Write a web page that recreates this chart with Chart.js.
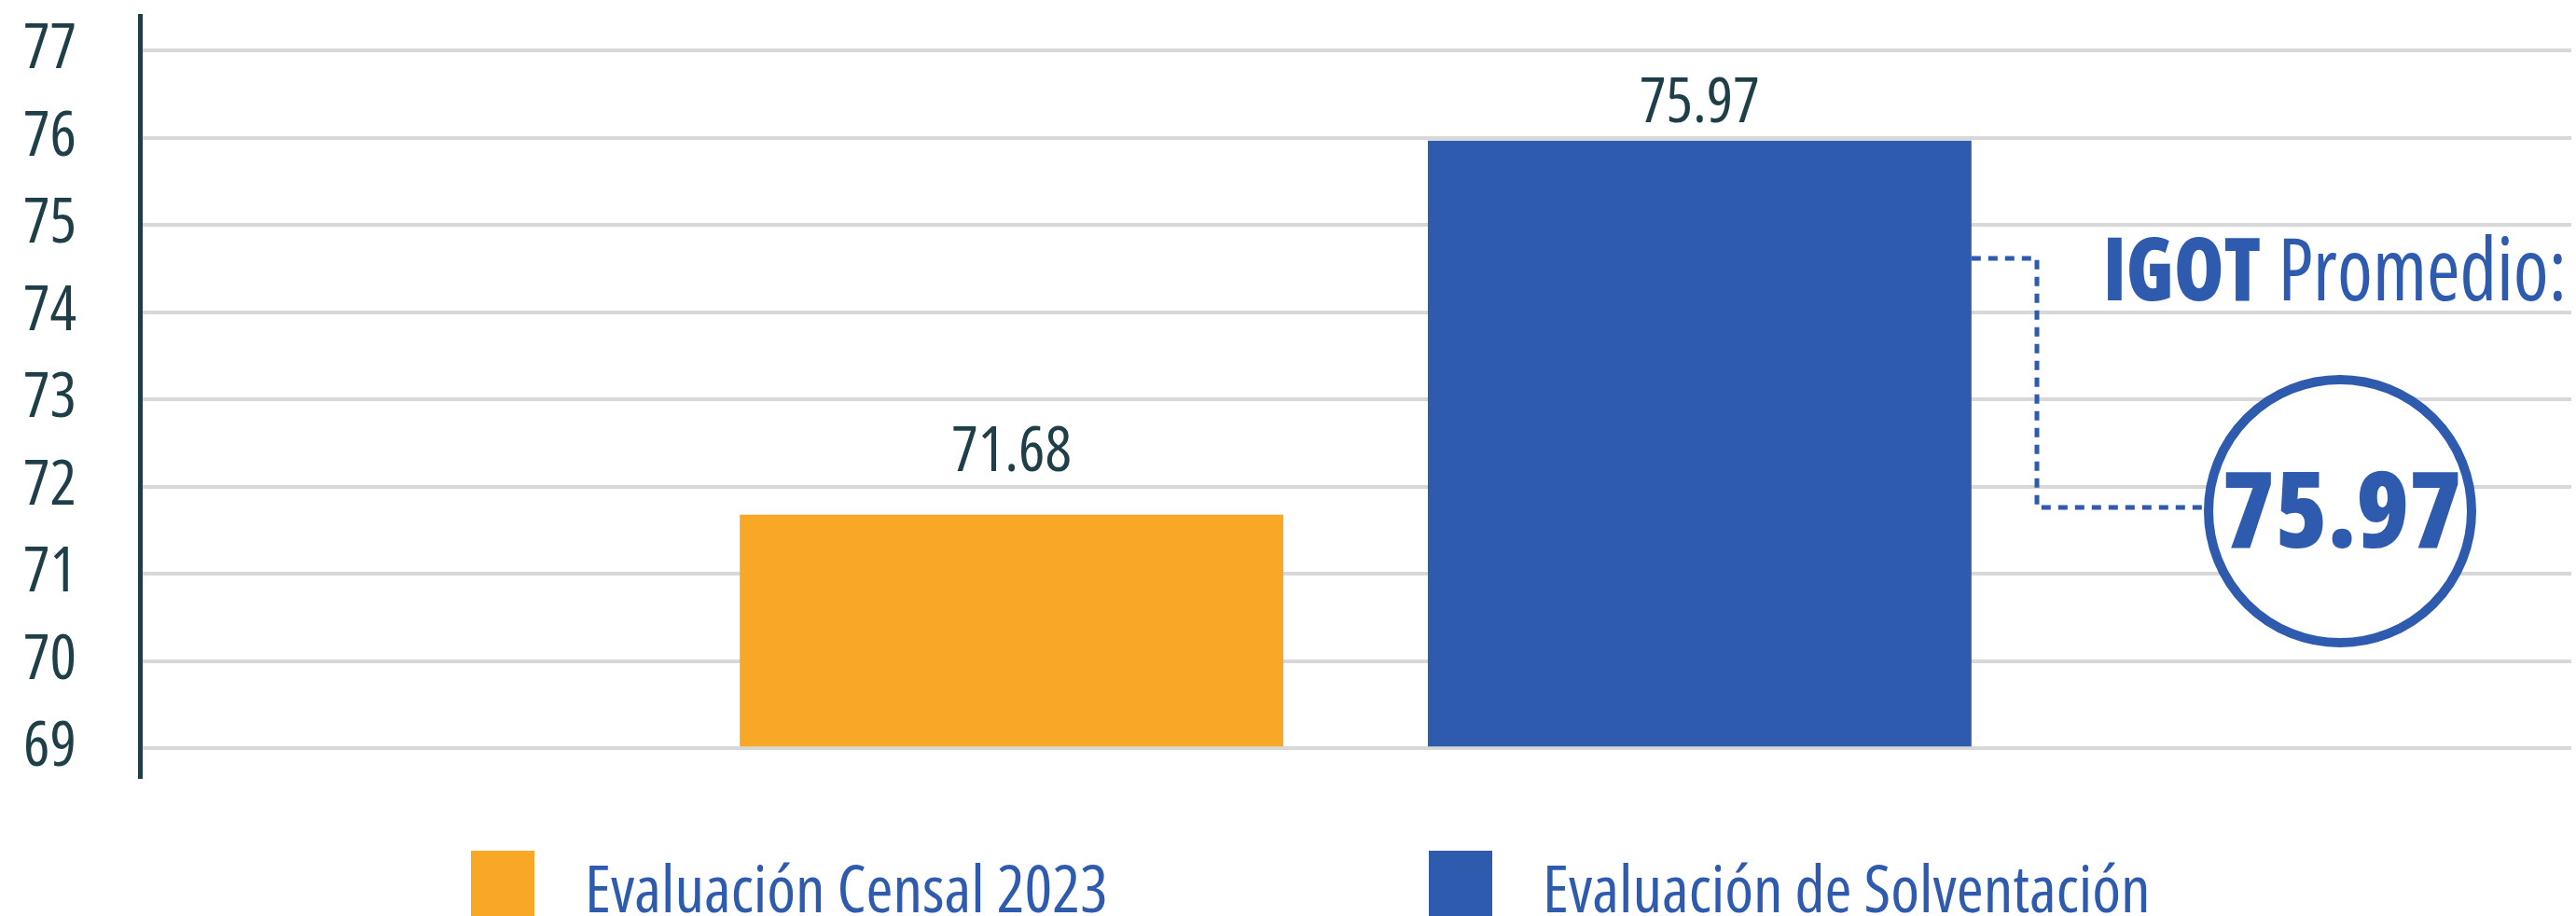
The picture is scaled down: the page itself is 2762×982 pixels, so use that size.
<!DOCTYPE html>
<html><head><meta charset="utf-8">
<script src="https://cdn.jsdelivr.net/npm/chart.js@4.4.0/dist/chart.umd.min.js"></script>
<style>html,body{margin:0;padding:0;background:#fff;overflow:hidden}canvas{display:block}</style>
</head><body>
<canvas id="c" width="2762" height="982"></canvas>
<script>
// ---- data ----
const categories = [''];
const seriesNames = ['Evaluación Censal 2023', 'Evaluación de Solventación'];
const censalValues = [71.68];
const solventacionValues = [75.97];
const yTickValues = [69, 70, 71, 72, 73, 74, 75, 76, 77];
const promedioTitle = ['IGOT', 'Promedio:'];
const promedioValue = [75.97];

// ---- style ----
const FAMILY = "'Open Sans', 'Liberation Sans Narrow', 'DejaVu Sans Condensed', sans-serif";
const f = (w, s) => `normal ${w} condensed ${s}px ${FAMILY}`;
const DARK = '#1f3f48';
const BLUE = '#2e5bae';
const ORANGE = '#f9a727';
const seriesColors = [ORANGE, BLUE];

function setFont(ctx, w, s) {
  ctx.font = f(w, s);
  try { ctx.fontStretch = 'condensed'; } catch (e) {}
}

const valueLabels = {
  id: 'valueLabels',
  afterDatasetsDraw(chart) {
    const ctx = chart.ctx;
    const offsets = [47, 20];
    ctx.save();
    setFont(ctx, 400, 67);
    ctx.fillStyle = DARK;
    ctx.textAlign = 'center';
    ctx.textBaseline = 'alphabetic';
    chart.data.datasets.forEach((ds, i) => {
      chart.getDatasetMeta(i).data.forEach((bar, j) => {
        ctx.fillText(ds.data[j].toFixed(2), bar.x, bar.y - offsets[i]);
      });
    });
    ctx.restore();
  }
};

const customLegend = {
  id: 'customLegend',
  afterDraw(chart) {
    const ctx = chart.ctx;
    const lefts = [505, 1532];
    ctx.save();
    setFont(ctx, 400, 70);
    ctx.textBaseline = 'alphabetic';
    ctx.textAlign = 'left';
    chart.data.datasets.forEach((ds, i) => {
      ctx.fillStyle = ds.backgroundColor;
      ctx.fillRect(lefts[i], 912, 68, 70);
      ctx.fillStyle = BLUE;
      ctx.fillText(ds.label, lefts[i] + 122, 978);
    });
    ctx.restore();
  }
};

const promedioNote = {
  id: 'promedioNote',
  afterDraw(chart) {
    const ctx = chart.ctx;
    const bar = chart.getDatasetMeta(1).data[0];
    const barRight = bar.x + bar.width / 2;
    const cx = 2509, cy = 548, r = 141;
    ctx.save();
    // dashed connector
    ctx.strokeStyle = BLUE;
    ctx.lineWidth = 5;
    ctx.setLineDash([10, 8]);
    ctx.beginPath();
    ctx.moveTo(barRight, 277);
    ctx.lineTo(2184, 277);
    ctx.lineTo(2184, cy - 4);
    ctx.lineTo(cx - r, cy - 4);
    ctx.stroke();
    ctx.setLineDash([]);
    // circle
    ctx.beginPath();
    ctx.arc(cx, cy, r, 0, Math.PI * 2);
    ctx.fillStyle = '#fff';
    ctx.fill();
    ctx.lineWidth = 10;
    ctx.strokeStyle = BLUE;
    ctx.stroke();
    // value
    ctx.fillStyle = BLUE;
    ctx.textAlign = 'center';
    ctx.textBaseline = 'alphabetic';
    setFont(ctx, 800, 114);
    ctx.fillText(promedioValue[0].toFixed(2), cx + 2, 587);
    // title
    ctx.textAlign = 'left';
    setFont(ctx, 800, 94); const w1 = ctx.measureText(promedioTitle[0]).width;
    setFont(ctx, 400, 94); const w2 = ctx.measureText(promedioTitle[1]).width;
    const gap = 20, target = 497;
    const total = w1 + gap + w2;
    const sx = Math.min(1, target / total);
    ctx.translate(2752 - total * sx, 322);
    ctx.scale(sx, 1);
    setFont(ctx, 800, 94); ctx.fillText(promedioTitle[0], 0, 0);
    setFont(ctx, 400, 94); ctx.fillText(promedioTitle[1], w1 + gap, 0);
    ctx.restore();
  }
};

new Chart(document.getElementById('c'), {
  type: 'bar',
  data: {
    labels: categories,
    datasets: [
      { label: seriesNames[0], data: censalValues, backgroundColor: seriesColors[0], base: yTickValues[0] },
      { label: seriesNames[1], data: solventacionValues, backgroundColor: seriesColors[1], base: yTickValues[0] }
    ]
  },
  options: {
    responsive: false,
    animation: false,
    devicePixelRatio: 1,
    categoryPercentage: 0.566,
    barPercentage: 0.79,
    layout: { padding: { left: 25, right: 5, top: 17, bottom: 149 } },
    plugins: { legend: { display: false }, tooltip: { enabled: false } },
    scales: {
      x: { display: false },
      y: {
        min: 68.67, max: 77.4,
        afterBuildTicks: s => { s.ticks = yTickValues.map(v => ({ value: v })); },
        afterFit: s => { s.width = 125; },
        grid: { color: '#d8d8d8', lineWidth: 4, drawTicks: false },
        border: { display: true, color: DARK, width: 5 },
        ticks: { crossAlign: 'far', padding: 0, color: DARK,
                 font: { family: FAMILY, size: 67, weight: '400 condensed', lineHeight: 0.4 } }
      }
    }
  },
  plugins: [valueLabels, customLegend, promedioNote]
});
</script>
</body></html>
